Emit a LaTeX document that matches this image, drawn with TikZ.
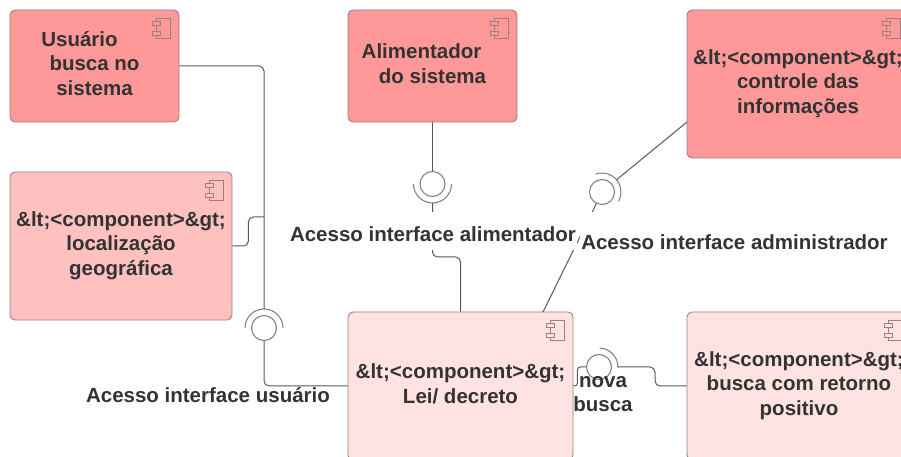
\documentclass[tikz,border=0pt]{standalone}
\usepackage{fontspec}
\setmainfont{Liberation Sans}
\usetikzlibrary{calc}
\definecolor{boxdark}{HTML}{FF9999}
\definecolor{boxmid}{HTML}{FFC0C0}
\definecolor{boxlight}{HTML}{FFE2E2}
\definecolor{boxedge}{HTML}{9C7F7F}
\definecolor{linec}{HTML}{595959}
\definecolor{ballc}{HTML}{7A7A7A}
\definecolor{txt}{HTML}{333333}
\tikzset{
  comp/.style={draw=boxedge, line width=0.9pt, rounded corners=5pt, inner sep=0pt,
    align=center, text=txt, font=\fontsize{20.5}{24.6}\selectfont\bfseries},
  iconline/.style={draw=boxedge, line width=0.7pt},
  conn/.style={draw=linec, line width=1pt, rounded corners=5pt},
  ball/.style={circle, draw=ballc, line width=1pt, minimum size=25pt, inner sep=0pt},
  sock/.style={draw=ballc, line width=1pt},
  lbl/.style={text=txt, inner sep=0pt, font=\fontsize{20.5}{24.6}\selectfont\bfseries}
}
\newcommand\compicon[2]{%
  \draw[iconline, fill=#2] ($(#1.north east)+(-23,-9)$) rectangle ($(#1.north east)+(-9,-29)$);
  \draw[iconline, fill=#2] ($(#1.north east)+(-27,-12)$) rectangle ($(#1.north east)+(-19,-16)$);
  \draw[iconline, fill=#2] ($(#1.north east)+(-27,-22)$) rectangle ($(#1.north east)+(-19,-26)$);
}
\begin{document}
\begin{tikzpicture}[x=1pt, y=1pt]
\useasboundingbox (0,0) rectangle (901,457);
\fill[white] (0,0) rectangle (901,457);
\clip (0,0) rectangle (901,457);

% boxes
\node[comp, fill=boxdark, minimum width=169pt, minimum height=112pt] (usr) at (94.5,391)
  {\strut Usuário\hspace*{30pt}\\\strut busca no\\\strut sistema};
\node[comp, fill=boxmid, minimum width=222pt, minimum height=148pt] (loc) at (121,211)
  {\strut\&lt;<component>\&gt;\\\strut localização\\\strut geográfica};
\node[comp, fill=boxdark, minimum width=169pt, minimum height=112pt] (ali) at (432.5,391)
  {\strut Alimentador\hspace*{22pt}\\\strut do sistema};
\node[comp, fill=boxdark, minimum width=222pt, minimum height=148pt] (ctl) at (798,373)
  {\strut\&lt;<component>\&gt;\\\strut controle das\\\strut informações};
\node[comp, fill=boxlight, minimum width=225pt, minimum height=148pt] (lei) at (460.5,71)
  {\strut\&lt;<component>\&gt;\\\strut Lei/ decreto};
\node[comp, fill=boxlight, minimum width=224pt, minimum height=148pt] (bus) at (799,71)
  {\strut\&lt;<component>\&gt;\\\strut busca com retorno\\\strut positivo};

\compicon{usr}{boxdark}
\compicon{loc}{boxmid}
\compicon{ali}{boxdark}
\compicon{ctl}{boxdark}
\compicon{lei}{boxlight}
\compicon{bus}{boxlight}

% interface balls
\node[ball] (uball) at (264,129) {};
\node[ball] (aball) at (432.5,273) {};
\node[ball] (cball) at (602,265) {};
\node[ball] (nball) at (599,90) {};

% sockets
\draw[sock] ($(uball.center)+(0:19)$) arc[start angle=0, end angle=180, radius=19pt];
\draw[sock] ($(aball.center)+(180:19)$) arc[start angle=180, end angle=360, radius=19pt];
\draw[sock] ($(cball.center)+(-30:19)$) arc[start angle=-30, end angle=110, radius=19pt];
\draw[sock] ($(nball.center)+(-3:19)$) arc[start angle=-3, end angle=88, radius=19pt];
\coordinate (uskt) at ($(uball.center)+(90:19)$);
\coordinate (askt) at ($(aball.center)+(270:19)$);
\coordinate (cskt) at ($(cball.center)+(40:19)$);
\coordinate (nskt) at ($(nball.center)+(0:19)$);

% connectors
\coordinate (ujoin) at (264,240);
\coordinate (cin) at (687,335);
\coordinate (ltop) at (543,145);
\draw[conn] (usr.east) -| (uskt);
\draw[conn] (uball.south) |- (lei.west);
\draw[conn] (loc.east) -- ++(16,0) |- (ujoin);
\draw[conn] (ali.south) -- (aball.north);
\draw[conn] (askt) -- ++(0,-54) -| (lei.north);
\draw[conn] (cin) -- (cskt);
\draw[conn] (cball.244) -- (ltop);
\draw[conn, rounded corners=3pt] (lei.east) -- ++(4,0) |- (nball.west);
\draw[conn] (nskt) -- ++(37,0) |- (bus.west);

% labels
\node[lbl, anchor=base] (lu) at (208,54) {Acesso interface usuário};
\node[lbl, anchor=base, fill=white, inner xsep=1pt, inner ysep=0pt, text height=30pt, text depth=8pt] (la) at (433,215) {Acesso interface alimentador};
\node[lbl, anchor=base, fill=white, inner xsep=1pt, inner ysep=0pt, text height=38pt, text depth=2pt] (ld) at (734.5,207) {Acesso interface administrador};
\node[lbl, align=center] (ln) at (603,63) {nova\\busca};
\end{tikzpicture}
\end{document}
